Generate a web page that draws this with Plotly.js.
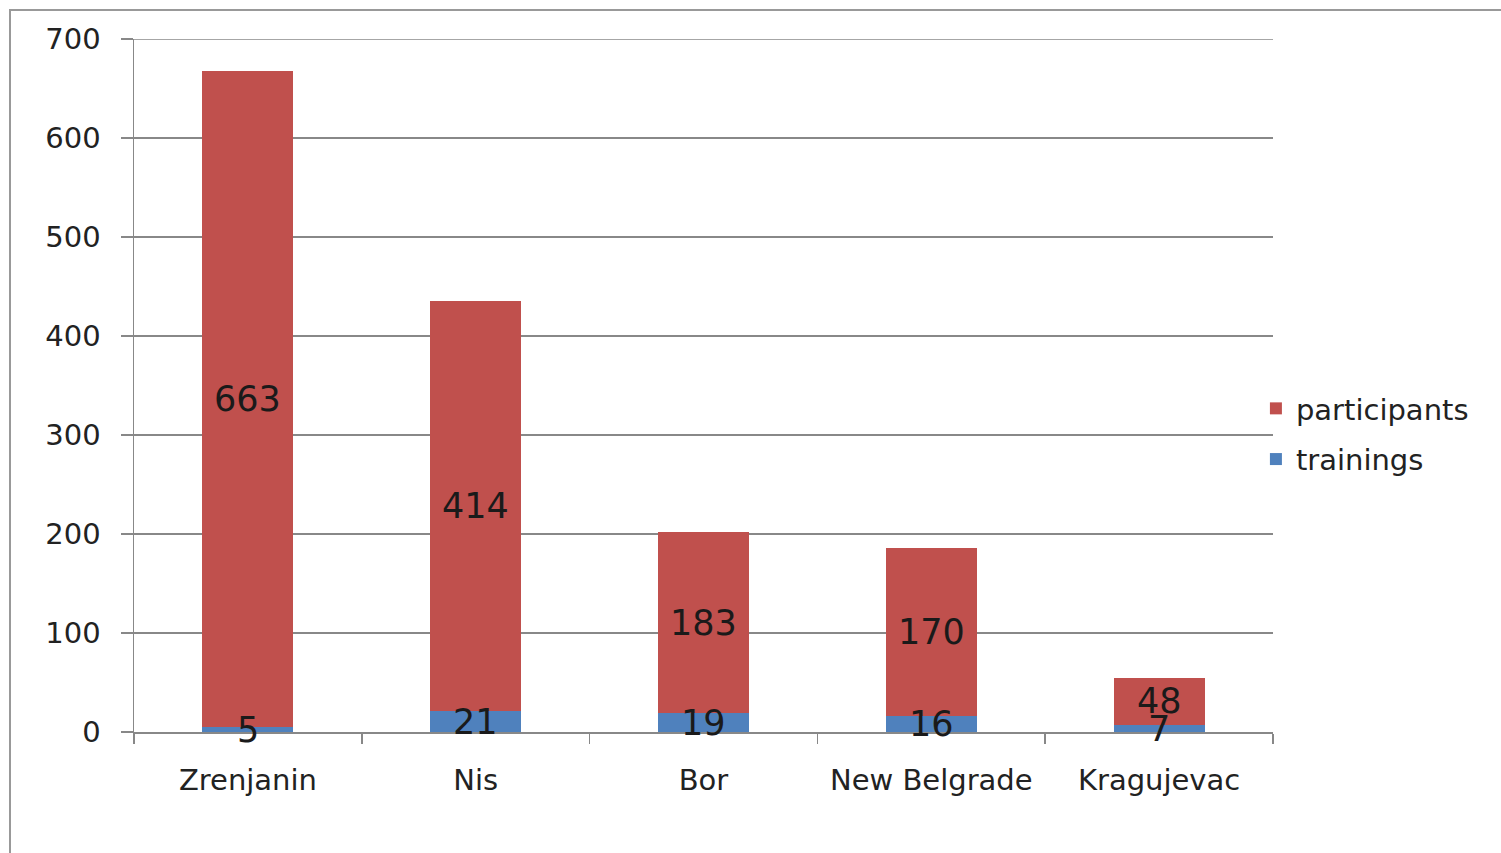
<!DOCTYPE html>
<html><head><meta charset="utf-8">
<script src="https://cdn.plot.ly/plotly-3.0.1.min.js"></script>
<style>html,body{margin:0;padding:0;background:#fff;overflow:hidden}#chart{width:1501px;height:853px}</style>
</head><body><div id="chart"></div>
<script>
const cities = ["Zrenjanin", "Nis", "Bor", "New Belgrade", "Kragujevac"];
const trainings = [5, 21, 19, 16, 7];
const participants = [663, 414, 183, 170, 48];
const yTicks = [0, 100, 200, 300, 400, 500, 600, 700];

const red = "#C0504D", blue = "#4F81BD";
const font = "DejaVu Sans, Verdana, sans-serif";

const traces = [
  {type: "bar", name: "trainings", legendgroup: "t", legendrank: 2, x: cities, y: trainings, marker: {color: blue}, width: 0.4, hoverinfo: "none"},
  {type: "bar", name: "participants", legendgroup: "p", legendrank: 1, x: cities, y: participants, marker: {color: red}, width: 0.4, hoverinfo: "none"}
];

const annotations = [];
cities.forEach((c, i) => {
  annotations.push({x: c, y: trainings[i] / 2, text: String(trainings[i]), showarrow: false,
    font: {family: font, size: 35, color: "#1a1a1a"}, xref: "x", yref: "y", yanchor: "middle"});
  annotations.push({x: c, y: trainings[i] + participants[i] / 2, text: String(participants[i]), showarrow: false,
    font: {family: font, size: 35, color: "#1a1a1a"}, xref: "x", yref: "y", yanchor: "middle"});
});

const yMax = yTicks[yTicks.length - 1];

const layout = {
  width: 1501, height: 853,
  margin: {l: 134, r: 228, t: 39, b: 121},
  paper_bgcolor: "#fff", plot_bgcolor: "#fff",
  barmode: "stack",
  font: {family: font, size: 29, color: "#222"},
  showlegend: true,
  legend: {x: 0.985, y: 0.43, xanchor: "left", yanchor: "middle", traceorder: "grouped",
    font: {family: font, size: 29, color: "#222"}, itemwidth: 30, tracegroupgap: 10, bgcolor: "rgba(0,0,0,0)"},
  xaxis: {
    type: "category", tickson: "boundaries", ticks: "outside", ticklen: 10, tickcolor: "#888", tickwidth: 1.5,
    showline: true, linecolor: "#888", linewidth: 1.5, showgrid: false, zeroline: false,
    tickfont: {family: font, size: 29, color: "#222"}, ticklabelstandoff: 22, fixedrange: true
  },
  yaxis: {
    range: [0, yMax], tickvals: yTicks, ticks: "outside", ticklen: 12, tickcolor: "#888", tickwidth: 1.5,
    showline: true, linecolor: "#888", linewidth: 1.5, showgrid: true, gridcolor: "#888", gridwidth: 1.2,
    zeroline: false, tickfont: {family: font, size: 29, color: "#222"}, ticklabelstandoff: 14, fixedrange: true
  },
  annotations: annotations,
  shapes: [
    {type: "rect", xref: "paper", yref: "paper", x0: (10 - 134) / 1139, x1: 2, y0: -1, y1: (732 - 10) / 693,
      line: {color: "#999", width: 2}, fillcolor: "rgba(0,0,0,0)", layer: "below"},
    {type: "line", xref: "paper", yref: "y", x0: 0, x1: 1, y0: yMax, y1: yMax,
      line: {color: "#888", width: 1.5}, layer: "above"}
  ]
};

Plotly.newPlot("chart", traces, layout, {displayModeBar: false, staticPlot: true});
</script></body></html>
